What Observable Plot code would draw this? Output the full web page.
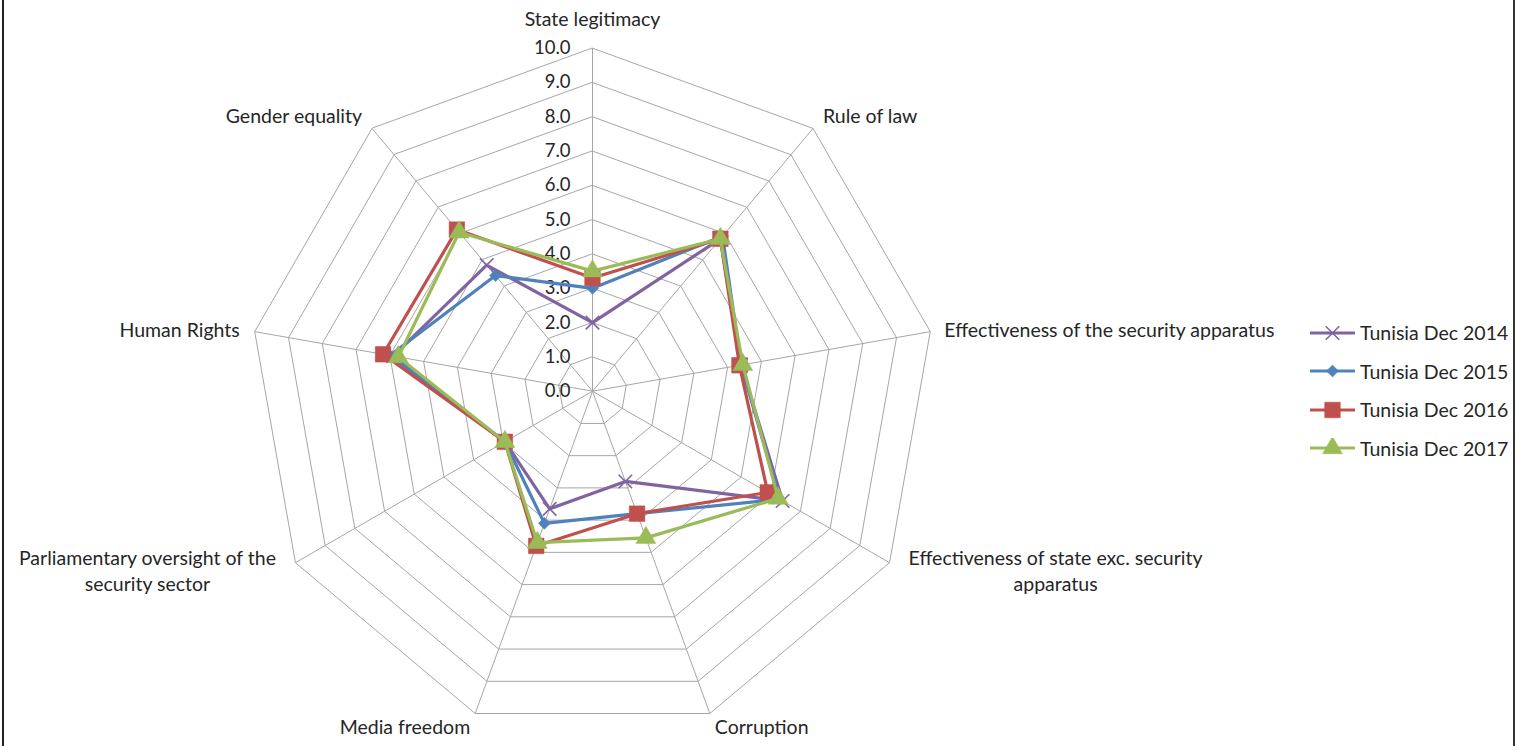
<!DOCTYPE html>
<html>
<head>
<meta charset="utf-8">
<script src="https://cdn.jsdelivr.net/npm/d3@7"></script>
<script src="https://cdn.jsdelivr.net/npm/@observablehq/plot@0.6"></script>
<style>
  html, body { margin: 0; padding: 0; background: #fff; }
  #wrap { position: relative; width: 1520px; height: 746px; overflow: hidden; font-family: Lato, "Open Sans", sans-serif; }
  #frame { position: absolute; left: 2px; top: 0; width: 1509px; height: 746px; border-left: 2px solid #222; border-right: 2px solid #333; box-sizing: content-box; pointer-events: none; }
  #legend { position: absolute; left: 1310px; top: 313.5px; }
  .row { display: flex; align-items: center; height: 38.5px; font-size: 19.5px; color: #262626; }
  .row svg { margin-right: 5px; }
</style>
</head>
<body>
<div id="wrap">
  <div id="chart"></div>
  <div id="frame"></div>
  <div id="legend"></div>
</div>
<script>
// ---- data ----
const axes = [
  "State legitimacy",
  "Rule of law",
  "Effectiveness of the security apparatus",
  "Effectiveness of state exc. security\napparatus",
  "Corruption",
  "Media freedom",
  "Parliamentary oversight of the\nsecurity sector",
  "Human Rights",
  "Gender equality"
];
const series = ["Tunisia Dec 2014", "Tunisia Dec 2015", "Tunisia Dec 2016", "Tunisia Dec 2017"];
const v2014 = [2.0, 5.8, 4.4, 6.4, 2.8, 3.65, 2.95, 5.9, 4.8];
const v2015 = [3.0, 5.9, 4.4, 6.3, 3.8, 4.1, 2.95, 6.0, 4.4];
const v2016 = [3.3, 5.8, 4.35, 5.9, 3.8, 4.8, 2.95, 6.2, 6.15];
const v2017 = [3.5, 5.8, 4.45, 6.25, 4.55, 4.7, 2.95, 5.75, 6.05];
const tickValues = [0, 1, 2, 3, 4, 5, 6, 7, 8, 9, 10];

// ---- styling ----
const colors = ["#8064A2", "#4F81BD", "#C0504D", "#9BBB59"];
const symbols = ["times", "diamond2", "square", "triangle"];
const symbolR = [6.2, 5.4, 8.8, 7.4];
const gridColor = "#a6a6a6";
const textColor = "#262626";
const labelSize = 19.5;

const n = axes.length;
const ang = i => (i * 2 * Math.PI) / n;
const px = (i, r) => r * Math.sin(ang(i));
const py = (i, r) => r * Math.cos(ang(i));

const allValues = [v2014, v2015, v2016, v2017];
const points = [];
allValues.forEach((vals, s) => vals.forEach((v, i) => points.push({series: series[s], s, i, v})));

const ringData = [];
tickValues.filter(t => t > 0).forEach(t => axes.forEach((a, i) => ringData.push({t, i})));

const spokes = axes.map((a, i) => ({i}));

// label placement (offsets from the outer vertex), per axis
const labelLayout = [
  {anchor: "middle", dx: 0, dy: -31},
  {anchor: "start", dx: 10, dy: -14},
  {anchor: "start", dx: 14, dy: -3},
  {anchor: "middle", dx: 166, dy: 7},
  {anchor: "start", dx: 5, dy: 12},
  {anchor: "end", dx: -5, dy: 12},
  {anchor: "middle", dx: -148, dy: 7},
  {anchor: "end", dx: -15, dy: -3},
  {anchor: "end", dx: -10, dy: -14}
];

const labelMarks = axes.map((a, i) => Plot.text([{i, a}], {
  x: d => px(d.i, 10), y: d => py(d.i, 10), text: "a",
  textAnchor: labelLayout[i].anchor, dx: labelLayout[i].dx, dy: labelLayout[i].dy,
  lineAnchor: "middle", lineHeight: 1.33,
  fontSize: labelSize, fill: textColor
}));

const seriesMarks = [];
series.forEach((name, s) => {
  const d = points.filter(p => p.s === s);
  seriesMarks.push(Plot.line(d, {
    x: p => px(p.i, p.v), y: p => py(p.i, p.v),
    curve: "linear-closed", stroke: colors[s], strokeWidth: 3.2, strokeLinejoin: "round"
  }));
  const filled = symbols[s] !== "times";
  seriesMarks.push(Plot.dot(d, {
    x: p => px(p.i, p.v), y: p => py(p.i, p.v),
    symbol: symbols[s], r: symbolR[s],
    fill: filled ? colors[s] : "none",
    stroke: colors[s], strokeWidth: filled ? 0.5 : 1.6
  }));
});

const cx = 592, cy = 390.7, R = 343;
const chart = Plot.plot({
  width: 1520, height: 746,
  margin: 0,
  style: {background: "transparent", fontFamily: "Lato, 'Open Sans', sans-serif", overflow: "visible"},
  x: {domain: [-10, 10], range: [cx - R, cx + R], axis: null},
  y: {domain: [-10, 10], range: [cy + R, cy - R], axis: null},
  marks: [
    Plot.line(ringData, {
      x: d => px(d.i, d.t), y: d => py(d.i, d.t), z: "t",
      curve: "linear-closed", stroke: gridColor, strokeWidth: 1
    }),
    Plot.link(spokes, {
      x1: 0, y1: 0, x2: d => px(d.i, 10), y2: d => py(d.i, 10),
      stroke: gridColor, strokeWidth: 1
    }),
    Plot.text(tickValues, {
      x: 0, y: d => d, text: d => d.toFixed(1),
      textAnchor: "end", dx: -22, fontSize: 18.5, fill: textColor
    }),
    ...labelMarks,
    ...seriesMarks
  ]
});
document.getElementById("chart").appendChild(chart);

// legend
const legend = document.getElementById("legend");
series.forEach((name, s) => {
  const row = document.createElement("div");
  row.className = "row";
  const svg = d3.create("svg").attr("width", 45).attr("height", 20);
  svg.append("line").attr("x1", 0).attr("x2", 45).attr("y1", 10).attr("y2", 10)
    .attr("stroke", colors[s]).attr("stroke-width", 3.2);
  const sym = {times: d3.symbolTimes, diamond2: d3.symbolDiamond2, square: d3.symbolSquare, triangle: d3.symbolTriangle}[symbols[s]];
  const filled = symbols[s] !== "times";
  svg.append("path").attr("transform", "translate(22.5,10)")
    .attr("d", d3.symbol(sym, Math.PI * symbolR[s] * symbolR[s])())
    .attr("fill", filled ? colors[s] : "none").attr("stroke", colors[s]).attr("stroke-width", filled ? 0.5 : 1.6);
  row.appendChild(svg.node());
  const span = document.createElement("span");
  span.textContent = name;
  row.appendChild(span);
  legend.appendChild(row);
});
</script>
</body>
</html>
